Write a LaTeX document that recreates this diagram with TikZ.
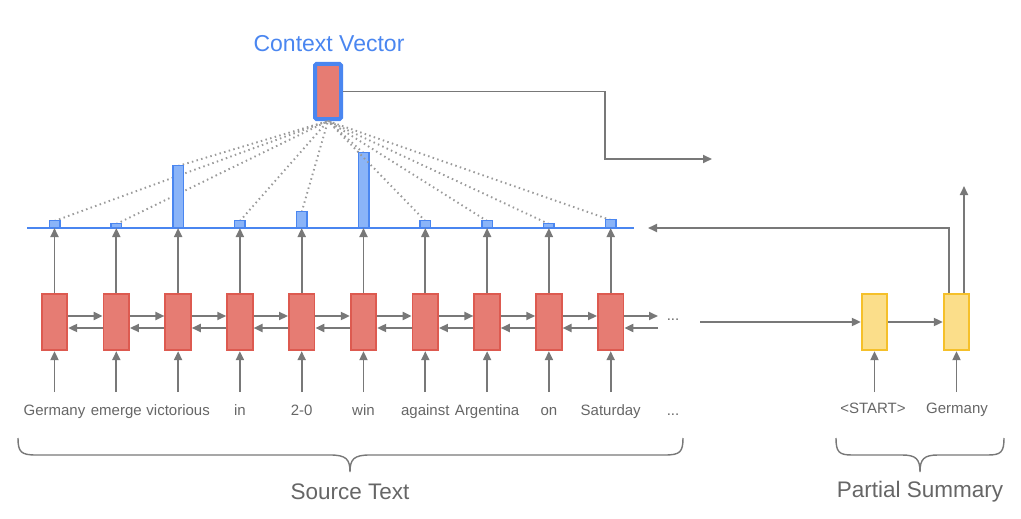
\documentclass[tikz,border=0pt]{standalone}
\usepackage{fontspec}
\setmainfont{Liberation Sans}
\usetikzlibrary{arrows.meta,calc}
\definecolor{redfill}{HTML}{E67C73}
\definecolor{redline}{HTML}{DD5A50}
\definecolor{yelfill}{HTML}{FBDE8A}
\definecolor{yelline}{HTML}{F5C02A}
\definecolor{barfill}{HTML}{8AB4F8}
\definecolor{barline}{HTML}{4A86F0}
\definecolor{arrgray}{HTML}{787878}
\definecolor{txtgray}{HTML}{666666}
\definecolor{ctxblue}{HTML}{4A86F0}
\tikzset{
  encbox/.style={draw=redline,fill=redfill,line width=1.8pt,minimum width=25.5pt,minimum height=56.5pt,inner sep=0pt},
  decbox/.style={draw=yelline,fill=yelfill,line width=1.8pt,minimum width=25.5pt,minimum height=56.5pt,inner sep=0pt},
  bar/.style={draw=barline,fill=barfill,line width=1.5pt,minimum width=10.5pt,inner sep=0pt,anchor=south},
  arr/.style={draw=arrgray,line width=1.9pt,-{Triangle[length=9pt,width=8pt]}},
  conn/.style={draw=arrgray,line width=1.9pt},
  dots/.style={draw=arrgray!75,line width=1.9pt,dash pattern=on 1.5pt off 3.3pt},
  word/.style={text=txtgray,font=\fontsize{15}{17}\selectfont,inner sep=0pt},
  big/.style={text=txtgray,font=\fontsize{22.5}{26}\selectfont,inner sep=0pt},
  bracestyle/.style={draw=arrgray,line width=1.4pt}
}
\begin{document}
\begin{tikzpicture}[x=1pt,y=-1pt]
\useasboundingbox (0,0) rectangle (1021,519);
% context vector
\node[text=ctxblue,font=\fontsize{23}{26}\selectfont,inner sep=0pt] (ctxlabel) at (329,44) {Context Vector};
\node[draw=ctxblue,fill=redfill,line width=4pt,rounded corners=1.5pt,minimum width=26pt,minimum height=55pt,inner sep=0pt] (ctx) at (328,91.5) {};
% blue baseline
\coordinate (bl) at (27,228);
\coordinate (br) at (634,228);
\draw[draw=barline,line width=1.6pt] (bl) -- (br);
% encoder
\foreach \i/\w/\h in {1/Germany/7,2/emerge/4,3/victorious/62,4/in/7,5/2-0/16,6/win/75,7/against/7,8/Argentina/7,9/on/4,10/Saturday/8}{
  \pgfmathsetmacro{\xx}{54.5+61.8*(\i-1)}
  \node[encbox] (e\i) at (\xx,322) {};
  \node[word,anchor=base] (w\i) at (\xx,415) {\w};
  \coordinate (in\i) at (\xx,392);
  \draw[dots] (\xx,228-\h) -- (ctx.south);
  \node[bar,minimum height=\h pt] (b\i) at (\xx,228) {};
  \draw[arr] (in\i) -- (e\i.south);
  \draw[arr] (e\i.north) -- (b\i.south);
}
\foreach \i [evaluate=\i as \j using int(\i+1)] in {1,...,9}{
  \draw[arr] ([yshift=6pt]e\i.east) -- ([yshift=6pt]e\j.west);
  \draw[arr] ([yshift=-6pt]e\j.west) -- ([yshift=-6pt]e\i.east);
}
\coordinate (fend) at (658,316);
\coordinate (bend) at (658,328);
\draw[arr] ([yshift=6pt]e10.east) -- (fend);
\draw[arr] (bend) -- ([yshift=-6pt]e10.east);
\node[word] (edots) at (673,320) {...};
\node[word,anchor=base] (wdots) at (673,415) {...};
% context output
\coordinate (ccorner) at (605,159);
\coordinate (cout) at (712,159);
\draw[arr] (ctx.east) -| (ccorner) -- (cout);
% decoder
\node[decbox] (d1) at (874.5,322) {};
\node[decbox] (d2) at (956.5,322) {};
\coordinate (dstart) at (700,322);
\draw[arr] (dstart) -- (d1.west);
\draw[arr] (d1.east) -- (d2.west);
\node[word,anchor=base] (ws) at (873,413) {<START>};
\node[word,anchor=base] (wg) at (957,413) {Germany};
\coordinate (din1) at (874.5,392);
\coordinate (din2) at (956.5,392);
\draw[arr] (din1) -- (d1.south);
\draw[arr] (din2) -- (d2.south);
\coordinate (dfb) at (949,228);
\coordinate (dfbend) at (648,228);
\draw[arr] ([xshift=-7.5pt]d2.north) -- (dfb) -- (dfbend);
\coordinate (dup) at (964,186);
\draw[arr] ([xshift=7.5pt]d2.north) -- (dup);
% braces
\draw[bracestyle] (18,438) .. controls (18,452) and (21,455) .. (36,455) -- (330,455) .. controls (346,455) and (350,459) .. (350,472) .. controls (350,459) and (354,455) .. (370,455) -- (665,455) .. controls (680,455) and (683,452) .. (683,438);
\draw[bracestyle] (836,438) .. controls (836,452) and (839,455) .. (852,455) -- (902,455) .. controls (916,455) and (920,459) .. (920,472) .. controls (920,459) and (924,455) .. (938,455) -- (988,455) .. controls (1001,455) and (1004,452) .. (1004,438);
\node[big] (src) at (350,492) {Source Text};
\node[big] (psum) at (920,492) {Partial Summary};
\end{tikzpicture}
\end{document}
